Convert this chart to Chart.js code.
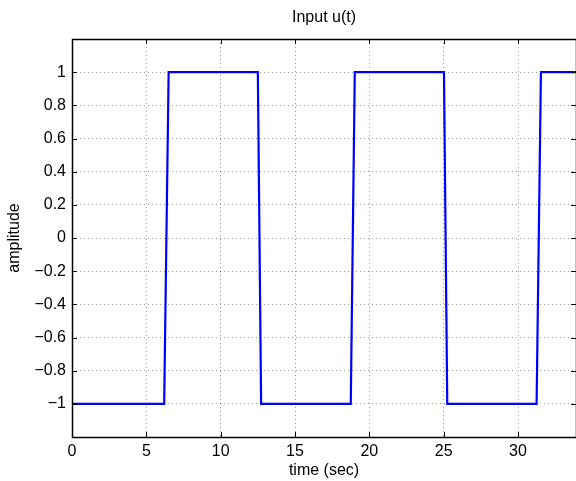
<!DOCTYPE html>
<html>
<head>
<meta charset="utf-8">
<script src="https://cdn.jsdelivr.net/npm/chart.js@4/dist/chart.umd.min.js"></script>
<style>
  html, body { margin: 0; padding: 0; background: #fff; }
  #wrap { width: 576px; height: 481px; }
</style>
</head>
<body>
<div id="wrap"><canvas id="plot" width="576" height="481"></canvas></div>
<script>
// values
var timeValues = [0, 6.2, 6.5, 12.5, 12.72, 18.75, 19.02, 25.02, 25.24, 31.25, 31.54, 33.9];
var inputValues = [-1, -1, 1, 1, -1, -1, 1, 1, -1, -1, 1, 1];
var xTicks = [0, 5, 10, 15, 20, 25, 30];
var yTicks = [-1, -0.8, -0.6, -0.4, -0.2, 0, 0.2, 0.4, 0.6, 0.8, 1];

var fontFamily = "'Liberation Sans', Arial, Helvetica, sans-serif";

function fmtNum(v) {
    var s = String(Math.round(v * 10) / 10);
    return s.replace('-', '\u2212');
}

// black frame round the axes plus inward tick marks, matlab style
var boxPlugin = {
    id: 'boxPlugin',
    afterDraw: function (chart) {
        var ctx = chart.ctx;
        var a = chart.chartArea;
        var xs = chart.scales.x, ys = chart.scales.y;
        ctx.save();
        ctx.strokeStyle = '#000';
        ctx.lineWidth = 1;
        ctx.beginPath();
        xTicks.forEach(function (v) {
            var px = Math.round(xs.getPixelForValue(v)) + 0.5;
            ctx.moveTo(px, a.bottom); ctx.lineTo(px, a.bottom - 5);
            ctx.moveTo(px, a.top); ctx.lineTo(px, a.top + 5);
        });
        yTicks.forEach(function (v) {
            var py = Math.round(ys.getPixelForValue(v)) + 0.5;
            ctx.moveTo(a.left, py); ctx.lineTo(a.left + 5, py);
            ctx.moveTo(a.right, py); ctx.lineTo(a.right - 5, py);
        });
        ctx.stroke();
        ctx.lineWidth = 1.5;
        ctx.strokeRect(Math.round(a.left) + 0.5, Math.round(a.top) + 0.5,
            Math.round(a.right - a.left), Math.round(a.bottom - a.top));
        ctx.restore();
    }
};

var ctx = document.getElementById('plot');
var points = timeValues.map(function (t, i) { return { x: t, y: inputValues[i] }; });

var chart = new Chart(ctx, {
    type: 'line',
    data: {
        datasets: [
            {
                label: 'u(t)',
                data: points,
                borderColor: '#0000ff',
                backgroundColor: '#0000ff',
                borderWidth: 2.2,
                pointRadius: 0,
                tension: 0,
                fill: false
            }
        ]
    },
    options: {
        responsive: false,
        animation: false,
        layout: { padding: { top: 1, left: 0, right: 0, bottom: 0 } },
        plugins: {
            legend: { display: false },
            tooltip: { enabled: false }
        },
        scales: {
            // top axis only carries the title, so it is centred over the axes box
            top: {
                type: 'linear',
                position: 'top',
                min: 0,
                max: 33.9,
                afterFit: function (scale) { scale.height = 38; },
                ticks: { display: false },
                grid: { display: false, drawTicks: false },
                border: { display: false },
                title: {
                    display: true,
                    text: 'Input u(t)',
                    color: '#000',
                    font: { family: fontFamily, size: 16 },
                    padding: { top: 7, bottom: 0 }
                }
            },
            x: {
                type: 'linear',
                min: 0,
                max: 33.9,
                afterFit: function (scale) { scale.height = 44; },
                afterBuildTicks: function (scale) {
                    scale.ticks = xTicks.map(function (v) { return { value: v }; });
                },
                ticks: {
                    color: '#000',
                    padding: 5,
                    maxRotation: 0,
                    font: { family: fontFamily, size: 16 },
                    callback: function (v) { return fmtNum(v); }
                },
                grid: {
                    color: 'rgba(0,0,0,0.4)',
                    borderDash: [1, 3],
                    drawTicks: false
                },
                border: { display: false, dash: [1, 3] },
                title: {
                    display: true,
                    text: 'time (sec)',
                    color: '#000',
                    font: { family: fontFamily, size: 16 },
                    padding: { top: 0, bottom: 1 }
                }
            },
            y: {
                min: -1.2,
                max: 1.2,
                afterFit: function (scale) { scale.width = 72; },
                afterBuildTicks: function (scale) {
                    scale.ticks = yTicks.map(function (v) { return { value: v }; });
                },
                ticks: {
                    color: '#000',
                    padding: 6,
                    font: { family: fontFamily, size: 16 },
                    callback: function (v) { return fmtNum(v); }
                },
                grid: {
                    color: 'rgba(0,0,0,0.4)',
                    borderDash: [1, 3],
                    drawTicks: false
                },
                border: { display: false, dash: [1, 3] },
                title: {
                    display: true,
                    text: 'amplitude',
                    color: '#000',
                    font: { family: fontFamily, size: 16 },
                    padding: { top: 5, bottom: 0 }
                }
            }
        }
    },
    plugins: [boxPlugin]
});
</script>
</body>
</html>
